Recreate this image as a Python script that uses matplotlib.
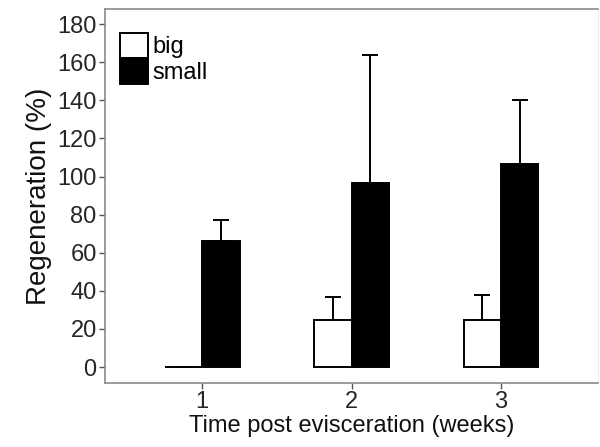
import numpy as np
import matplotlib.pyplot as plt
from matplotlib.patches import Patch

plt.rcParams['font.family'] = ['Liberation Sans', 'DejaVu Sans']

# Data
weeks = ["1", "2", "3"]
big_mean = [0, 24.7, 24.7]
big_err = [0, 12.2, 13.1]
small_mean = [66.3, 96.6, 106.6]
small_err = [11, 67.2, 33.6]

bar_w = 0.25
x = np.arange(1, len(weeks) + 1)

fig = plt.figure(figsize=(6, 4.47), dpi=100)
ax = fig.add_axes([0.175, 0.143, 0.822, 0.837])

for xs, means, errs, fc in [(x - bar_w / 2, big_mean, big_err, "white"),
                            (x + bar_w / 2, small_mean, small_err, "black")]:
    ax.errorbar(xs, means, yerr=[np.zeros(len(means)), errs], fmt="none",
                ecolor="black", elinewidth=1.4, capsize=6, capthick=1.4, zorder=1)
    ax.bar(xs, means, width=bar_w, color=fc, edgecolor="black", linewidth=1.4, zorder=2)

ax.set_xlim(0.35, 3.65)
ax.set_ylim(-8.4, 188)
ax.set_xticks(x)
ax.set_xticklabels(weeks)
ax.set_yticks(np.arange(0, 181, 20))
ax.tick_params(axis="both", colors="#555555", labelcolor="#262626", labelsize=17,
               length=4, width=1, pad=2)

for side in ["left", "bottom", "top"]:
    ax.spines[side].set_color("#8a8a8a")
    ax.spines[side].set_linewidth(1.2)
ax.spines["right"].set_color("#eeeeee")

ax.set_ylabel("Regeneration (%)", fontsize=20, color="#111111", labelpad=4)
ax.set_xlabel("Time post evisceration (weeks)", fontsize=17, color="#111111", labelpad=1)

handles = [Patch(facecolor="white", edgecolor="black", linewidth=1.4, label="big"),
           Patch(facecolor="black", edgecolor="black", linewidth=1.4, label="small")]
ax.legend(handles=handles, loc="upper left", frameon=False, fontsize=17,
          handlelength=1.2, handleheight=1.3, handletextpad=0.2,
          labelspacing=0.0, borderaxespad=0.0, borderpad=0.0,
          bbox_to_anchor=(0.03, 0.937))

fig.savefig("out.png", dpi=100)
